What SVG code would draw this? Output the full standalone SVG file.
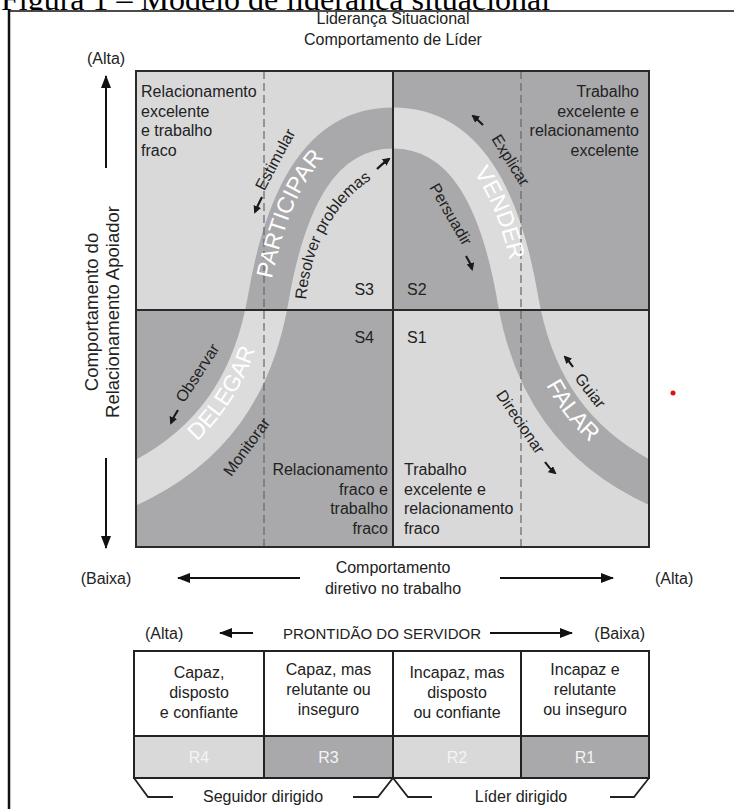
<svg xmlns="http://www.w3.org/2000/svg" width="734" height="809" viewBox="0 0 734 809">
<style>
text{font-family:"Liberation Sans",Arial,Helvetica,sans-serif;font-size:16px;fill:#222}
.title{font-family:"Liberation Serif","Times New Roman",serif;font-size:32px;fill:#000}
.big{font-size:23px;fill:#fff}
.vt{font-size:18.5px}
.rl{fill:#f4f4f4}
.m{text-anchor:middle}
.e{text-anchor:end}
.lt{fill:#d9d9da}
.dk{fill:#a9a9ab}
.ax{stroke:#111;stroke-width:2;fill:none;marker-end:url(#ah)}
.sa{stroke:#1a1a1a;stroke-width:2.2;fill:none;marker-end:url(#sh)}
.grid{stroke:#2a2a2a;stroke-width:2;fill:none}
.dash{stroke:#666;stroke-width:1.2;stroke-dasharray:8 4;fill:none}
.ln{stroke:#222;stroke-width:2;fill:none}
</style>
<defs>
<marker id="ah" markerWidth="13" markerHeight="10" refX="12" refY="5" orient="auto" markerUnits="userSpaceOnUse"><path d="M0,0 L13,5 L0,10 z" fill="#111"/></marker>
<marker id="sh" markerWidth="8" markerHeight="8" refX="6" refY="4" orient="auto" markerUnits="userSpaceOnUse"><path d="M0,0 L8,4 L0,8 z" fill="#1a1a1a"/></marker>
<clipPath id="cl"><rect x="136" y="71" width="257" height="239"/><rect x="393" y="310" width="256" height="237"/></clipPath>
<clipPath id="cd"><rect x="393" y="71" width="256" height="239"/><rect x="136" y="310" width="257" height="237"/></clipPath>
<path id="band" d="M80,507 L120,490 C215,450 254,380 268,300 C285,200 320,128 393,128 C466,128 501,200 518,300 C532,380 571,450 666,490 L706,507" fill="none" stroke-width="41"/>
<path id="pD" d="M120,490 C215,450 254,380 268,300"/>
<path id="pP" d="M268,300 C285,200 320,128 393,128"/>
<path id="pV" d="M393,128 C466,128 501,200 518,300"/>
<path id="pF" d="M518,300 C532,380 571,450 666,490"/>
<path id="pR" d="M306,300 Q315,205 392,167"/>
</defs>

<text class="title" x="1" y="9.5">Figura 1 – Modelo de liderança situacional</text>
<rect x="0" y="10.5" width="734" height="799" fill="#fff"/>
<path d="M9,11 H734" stroke="#111" stroke-width="1.6"/>
<path d="M9,10 V809" stroke="#111" stroke-width="2.5"/>

<g id="header">
<text class="m" x="393" y="24">Liderança Situacional</text>
<text class="m" x="393" y="45">Comportamento de Líder</text>
</g>

<g id="quadrants">
<g id="q-s3"><rect class="lt" x="136" y="71" width="257" height="239"/></g>
<g id="q-s2"><rect class="dk" x="393" y="71" width="256" height="239"/></g>
<g id="q-s4"><rect class="dk" x="136" y="310" width="257" height="237"/></g>
<g id="q-s1"><rect class="lt" x="393" y="310" width="256" height="237"/></g>
<use href="#band" stroke="#a9a9ab" clip-path="url(#cl)"/>
<use href="#band" stroke="#dcdcdd" clip-path="url(#cd)"/>
<path class="dash" d="M264,71 V547 M521,71 V547"/>
<rect class="grid" x="136" y="71" width="513" height="476"/>
<path class="grid" d="M393,71 V547 M136,310 H649"/>
</g>

<g id="band-labels">
<text class="big"><textPath href="#pD" startOffset="58%" text-anchor="middle" dy="8">DELEGAR</textPath></text>
<text class="big"><textPath href="#pP" startOffset="38%" text-anchor="middle" dy="8">PARTICIPAR</textPath></text>
<text class="big"><textPath href="#pV" startOffset="62%" text-anchor="middle" dy="8">VENDER</textPath></text>
<text class="big"><textPath href="#pF" startOffset="50%" text-anchor="middle" dy="8">FALAR</textPath></text>
</g>

<g id="quadrant-text">
<text x="141" y="97">Relacionamento</text>
<text x="141" y="116.6">excelente</text>
<text x="141" y="136.2">e trabalho</text>
<text x="141" y="155.8">fraco</text>
<text class="e" x="639" y="97">Trabalho</text>
<text class="e" x="639" y="116.6">excelente e</text>
<text class="e" x="639" y="136.2">relacionamento</text>
<text class="e" x="639" y="155.8">excelente</text>
<text class="e" x="388" y="475">Relacionamento</text>
<text class="e" x="388" y="494.6">fraco e</text>
<text class="e" x="388" y="514.2">trabalho</text>
<text class="e" x="388" y="533.8">fraco</text>
<text x="404" y="475">Trabalho</text>
<text x="404" y="494.6">excelente e</text>
<text x="404" y="514.2">relacionamento</text>
<text x="404" y="533.8">fraco</text>
<text class="e" x="374" y="295">S3</text>
<text x="407" y="295">S2</text>
<text class="e" x="374" y="343">S4</text>
<text x="407" y="343">S1</text>
</g>

<g id="curve-labels">
<text class="m" transform="translate(280,162) rotate(-62)">Estimular</text>
<text><textPath href="#pR">Resolver problemas</textPath></text>
<text class="m" transform="translate(506,163) rotate(58)">Explicar</text>
<text class="m" transform="translate(446,217) rotate(60)">Persuadir</text>
<text class="m" transform="translate(586,394) rotate(52)">Guiar</text>
<text class="m" transform="translate(516,425) rotate(56)">Direcionar</text>
<text class="m" transform="translate(202,376) rotate(-57)">Observar</text>
<text class="m" transform="translate(251,450) rotate(-54)">Monitorar</text>
</g>

<g id="connectors">
<path class="sa" d="M262,197 Q258,205 255,212"/>
<path class="sa" d="M377,169 Q382,164 389,159"/>
<path class="sa" d="M483,125 Q478,120 473,116"/>
<path class="sa" d="M466,256 Q470,262 472,269"/>
<path class="sa" d="M573,367 Q569,361 565,357"/>
<path class="sa" d="M545,462 Q549,468 555,473"/>
<path class="sa" d="M178,410 Q174,416 171,423"/>
<path class="ax" d="M106,168 V76"/>
<path class="ax" d="M106,458 V548"/>
<path class="ax" d="M300,578 H178"/>
<path class="ax" d="M500,578 H613"/>
<path class="ax" d="M253,633 H220"/>
<path class="ax" d="M490,633 H572"/>
</g>

<g id="axis-labels">
<text class="m" x="106" y="64">(Alta)</text>
<text class="m vt" transform="translate(98,312) rotate(-90)">Comportamento do</text>
<text class="m vt" transform="translate(119,312) rotate(-90)">Relacionamento Apoiador</text>
<text class="m" x="106" y="584">(Baixa)</text>
<text class="m" x="393" y="573">Comportamento</text>
<text class="m" x="393" y="594">diretivo no trabalho</text>
<text x="655" y="584">(Alta)</text>
<text x="145" y="639">(Alta)</text>
<text class="m" x="382" y="639" style="font-size:15px">PRONTIDÃO DO SERVIDOR</text>
<text class="e" x="645" y="639">(Baixa)</text>
</g>

<g id="readiness-table">
<g id="r4"><rect x="134" y="651" width="130" height="85" fill="#fff"/><rect class="lt" x="134" y="736" width="130" height="42"/>
<text class="m" x="199" y="678">Capaz,</text><text class="m" x="199" y="698">disposto</text><text class="m" x="199" y="718">e confiante</text>
<text class="m rl" x="199" y="763">R4</text></g>
<g id="r3"><rect x="264" y="651" width="129" height="85" fill="#fff"/><rect class="dk" x="264" y="736" width="129" height="42"/>
<text class="m" x="328.5" y="675">Capaz, mas</text><text class="m" x="328.5" y="695">relutante ou</text><text class="m" x="328.5" y="715">inseguro</text>
<text class="m rl" x="328.5" y="763">R3</text></g>
<g id="r2"><rect x="393" y="651" width="128" height="85" fill="#fff"/><rect class="lt" x="393" y="736" width="128" height="42"/>
<text class="m" x="457" y="678">Incapaz, mas</text><text class="m" x="457" y="698">disposto</text><text class="m" x="457" y="718">ou confiante</text>
<text class="m rl" x="457" y="763">R2</text></g>
<g id="r1"><rect x="521" y="651" width="128" height="85" fill="#fff"/><rect class="dk" x="521" y="736" width="128" height="42"/>
<text class="m" x="585" y="675">Incapaz e</text><text class="m" x="585" y="695">relutante</text><text class="m" x="585" y="715">ou inseguro</text>
<text class="m rl" x="585" y="763">R1</text></g>
<rect class="ln" x="134" y="651" width="515" height="127"/>
<path class="ln" d="M134,736 H649 M264,651 V778 M393,651 V778 M521,651 V778"/>
</g>

<g id="brackets">
<path class="ln" style="stroke-width:1.8" d="M134,778 L148,797 H173 M353,797 H378 L393,778 L408,797 H432 M610,797 H634 L649,778"/>
<text class="m" x="263" y="802">Seguidor dirigido</text>
<text class="m" x="521" y="802">Líder dirigido</text>
</g>

<circle cx="673" cy="393" r="2.5" fill="#e01010"/>
</svg>
